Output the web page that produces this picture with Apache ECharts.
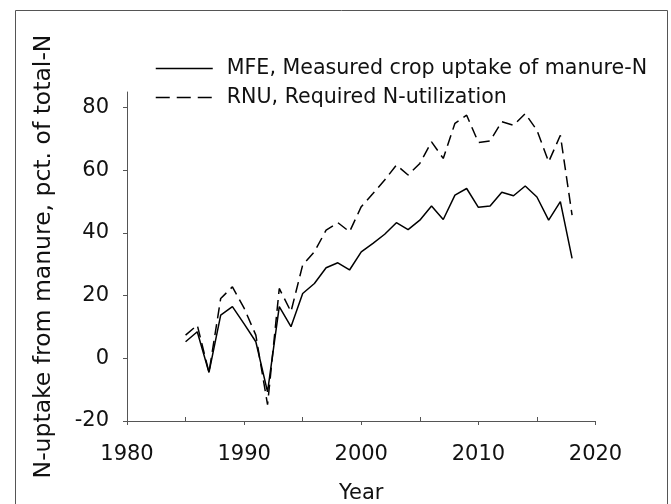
<!DOCTYPE html>
<html>
<head>
<meta charset="utf-8">
<script src="https://cdn.jsdelivr.net/npm/echarts@6/dist/echarts.min.js"></script>
<style>
html,body{margin:0;padding:0;background:#fff;}
#chart{width:671px;height:504px;}
</style>
</head>
<body>
<div id="chart"></div>
<script>
var years = [1985,1986,1987,1988,1989,1990,1991,1992,1993,1994,1995,1996,1997,1998,1999,2000,2001,2002,2003,2004,2005,2006,2007,2008,2009,2010,2011,2012,2013,2014,2015,2016,2017,2018];
var mfe = [5.3,8.5,-4.5,13.8,16.5,11,5.3,-10.7,16.5,10.1,20.7,23.9,28.9,30.5,28.2,34,36.7,39.6,43.3,41.1,44.1,48.6,44.3,52.1,54.2,48.2,48.6,53,51.9,55,51.5,44.1,50,31.9];
var rnu = [7.4,10.6,-4.5,19.1,22.8,16,7.4,-14.8,22.3,14.9,29.8,34,40.9,43.3,40.4,48.4,52.6,56.9,61.7,58.5,62.2,69.1,63.8,75,77.6,68.9,69.4,75.5,74.4,78.1,72.8,62.7,71.2,45.7];
var yTicks = [-20,0,20,40,60,80];
var xMinorTicks = [1985,1995,2005,2015];
var mfeName = 'MFE, Measured crop uptake of manure-N';
var rnuName = 'RNU, Required N-utilization';
var yTitle = 'N-uptake from manure, pct. of total-N';
var xTitle = 'Year';

function pairs(xs, ys){ return xs.map(function(x,i){ return [x, ys[i]]; }); }

var chart = echarts.init(document.getElementById('chart'), null, {renderer:'canvas'});
var font = 'DejaVu Sans';
var axisColor = '#555';
chart.setOption({
  animation:false,
  backgroundColor:'#fff',
  textStyle:{fontFamily:font},
  grid:{left:127, right:75.5, top:92, bottom:83, containLabel:false, outerBoundsMode:'none'},
  graphic:[{type:'rect', shape:{x:15.5,y:10.5,width:652,height:520}, style:{fill:'none', stroke:'#555', lineWidth:1}, silent:true}],
  legend:{
    orient:'vertical', left:155, top:58, padding:0,
    itemWidth:57, itemHeight:20, itemGap:8,
    textStyle:{fontFamily:font, fontSize:20.6, color:'#111', lineHeight:20, padding:[0,0,0,9]},
    data:[
      {name:mfeName, itemStyle:{opacity:0}, lineStyle:{color:'#000', width:1.5, type:'solid'}},
      {name:rnuName, itemStyle:{opacity:0}, lineStyle:{color:'#000', width:1.5, type:[14,7]}}
    ]
  },
  xAxis:[{
    type:'value', min:1980, max:2020, interval:10,
    name:xTitle, nameLocation:'middle', nameGap:62,
    nameTextStyle:{fontFamily:font, fontSize:21, color:'#111'},
    axisLine:{show:true, onZero:false, lineStyle:{color:axisColor, width:1}},
    axisTick:{show:true, inside:false, length:4, lineStyle:{color:axisColor}},
    axisLabel:{fontFamily:font, fontSize:21, color:'#111', margin:23, formatter:function(v){return String(v);}},
    splitLine:{show:false}
  },{
    type:'value', min:1980, max:2020, position:'bottom', gridIndex:0,
    axisLine:{show:false, onZero:false},
    axisTick:{show:true, inside:true, length:4, customValues:xMinorTicks, lineStyle:{color:axisColor}},
    axisLabel:{show:false},
    splitLine:{show:false}
  }],
  yAxis:{
    type:'value', min:-20, max:85,
    name:yTitle, nameLocation:'middle', nameGap:71, nameRotate:90,
    nameTextStyle:{fontFamily:font, fontSize:23.5, color:'#111'},
    axisLine:{show:true, onZero:false, lineStyle:{color:axisColor, width:1}},
    axisTick:{show:true, inside:false, length:4, customValues:yTicks, lineStyle:{color:axisColor}},
    axisLabel:{fontFamily:font, fontSize:21, color:'#111', margin:18, customValues:yTicks},
    splitLine:{show:false}
  },
  series:[
    {name:mfeName, type:'line', data:pairs(years, mfe), showSymbol:false, symbol:'none',
     lineStyle:{color:'#000', width:1.5, type:'solid'}, itemStyle:{color:'#000'}},
    {name:rnuName, type:'line', data:pairs(years, rnu), showSymbol:false, symbol:'none',
     lineStyle:{color:'#000', width:1.5, type:[11,6]}, itemStyle:{color:'#000'}}
  ]
});
</script>
</body>
</html>
